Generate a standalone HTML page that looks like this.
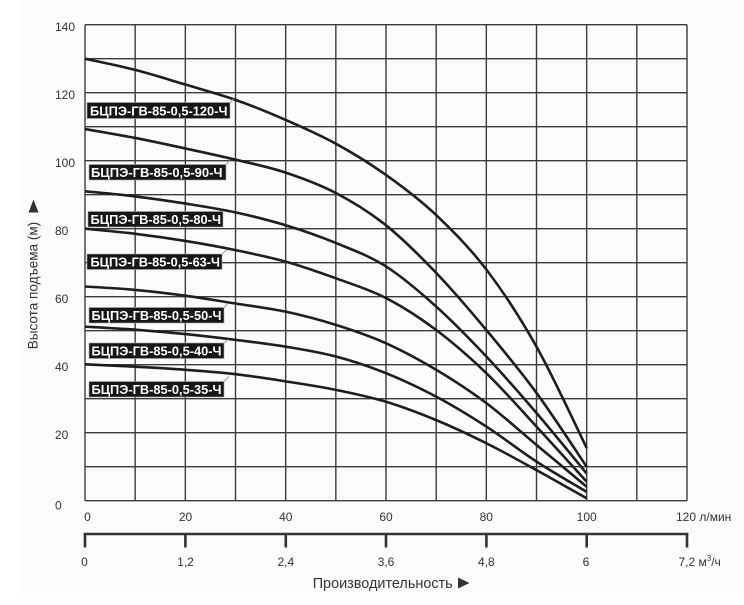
<!DOCTYPE html>
<html><head><meta charset="utf-8"><style>
html,body{margin:0;padding:0;background:#fff;}
svg{display:block;}
text{font-family:"Liberation Sans",Arial,sans-serif;}
</style></head><body>
<svg width="744" height="605" viewBox="0 0 744 605" xmlns="http://www.w3.org/2000/svg">
<rect x="0" y="0" width="744" height="605" fill="#fff"/>
<rect x="20" y="0" width="724" height="593" fill="#fbfbfb"/>
<g stroke="#3a3a3a" stroke-width="1.4" fill="none">
<line x1="85" y1="24.7" x2="85" y2="500.7"/>
<line x1="135.17" y1="24.7" x2="135.17" y2="500.7"/>
<line x1="185.33" y1="24.7" x2="185.33" y2="500.7"/>
<line x1="235.5" y1="24.7" x2="235.5" y2="500.7"/>
<line x1="285.67" y1="24.7" x2="285.67" y2="500.7"/>
<line x1="335.83" y1="24.7" x2="335.83" y2="500.7"/>
<line x1="386" y1="24.7" x2="386" y2="500.7"/>
<line x1="436.17" y1="24.7" x2="436.17" y2="500.7"/>
<line x1="486.33" y1="24.7" x2="486.33" y2="500.7"/>
<line x1="536.5" y1="24.7" x2="536.5" y2="500.7"/>
<line x1="586.67" y1="24.7" x2="586.67" y2="500.7"/>
<line x1="636.83" y1="24.7" x2="636.83" y2="500.7"/>
<line x1="687" y1="24.7" x2="687" y2="500.7"/>
<line x1="85" y1="24.7" x2="687" y2="24.7"/>
<line x1="85" y1="58.7" x2="687" y2="58.7"/>
<line x1="85" y1="92.7" x2="687" y2="92.7"/>
<line x1="85" y1="126.7" x2="687" y2="126.7"/>
<line x1="85" y1="160.7" x2="687" y2="160.7"/>
<line x1="85" y1="194.7" x2="687" y2="194.7"/>
<line x1="85" y1="228.7" x2="687" y2="228.7"/>
<line x1="85" y1="262.7" x2="687" y2="262.7"/>
<line x1="85" y1="296.7" x2="687" y2="296.7"/>
<line x1="85" y1="330.7" x2="687" y2="330.7"/>
<line x1="85" y1="364.7" x2="687" y2="364.7"/>
<line x1="85" y1="398.7" x2="687" y2="398.7"/>
<line x1="85" y1="432.7" x2="687" y2="432.7"/>
<line x1="85" y1="466.7" x2="687" y2="466.7"/>
<line x1="85" y1="500.7" x2="687" y2="500.7"/>
</g>

<g transform="translate(85 500.7) scale(5.0167 -3.4)" fill="none" stroke="#1e1e1e" stroke-width="2.6" stroke-linejoin="round">
<path vector-effect="non-scaling-stroke" d="M0,130 C1.667,129.45 6.667,127.97 10,126.7 C13.333,125.43 16.667,123.87 20,122.4 C23.333,120.93 26.667,119.63 30,117.9 C33.333,116.17 36.667,114.15 40,112 C43.333,109.85 46.667,107.7 50,105 C53.333,102.3 56.667,99.3 60,95.8 C63.333,92.3 66.667,88.63 70,84 C73.333,79.37 76.667,74.45 80,68 C83.333,61.55 86.667,54.05 90,45.3 C93.333,36.55 98.333,20.47 100,15.5"/>
<path vector-effect="non-scaling-stroke" d="M0,109.3 C1.667,108.87 6.667,107.65 10,106.7 C13.333,105.75 16.667,104.67 20,103.6 C23.333,102.53 26.667,101.48 30,100.3 C33.333,99.12 36.667,98.13 40,96.5 C43.333,94.87 46.667,93.08 50,90.5 C53.333,87.92 56.667,84.92 60,81 C63.333,77.08 66.667,72.13 70,67 C73.333,61.87 76.667,56.08 80,50.2 C83.333,44.32 86.667,38.4 90,31.7 C93.333,25 98.333,13.62 100,10"/>
<path vector-effect="non-scaling-stroke" d="M0,91 C1.667,90.75 6.667,90.1 10,89.5 C13.333,88.9 16.667,88.18 20,87.4 C23.333,86.62 26.667,85.87 30,84.8 C33.333,83.73 36.667,82.5 40,81 C43.333,79.5 46.667,77.82 50,75.8 C53.333,73.78 56.667,72.02 60,68.9 C63.333,65.78 66.667,61.52 70,57.1 C73.333,52.68 76.667,47.62 80,42.4 C83.333,37.18 86.667,31.53 90,25.8 C93.333,20.07 98.333,10.97 100,8"/>
<path vector-effect="non-scaling-stroke" d="M0,80 C1.667,79.75 6.667,79.1 10,78.5 C13.333,77.9 16.667,77.2 20,76.4 C23.333,75.6 26.667,74.72 30,73.7 C33.333,72.68 36.667,71.68 40,70.3 C43.333,68.92 46.667,67.18 50,65.4 C53.333,63.62 56.667,62.13 60,59.6 C63.333,57.07 66.667,53.88 70,50.2 C73.333,46.52 76.667,42.23 80,37.5 C83.333,32.77 86.667,27.12 90,21.8 C93.333,16.48 98.333,8.3 100,5.6"/>
<path vector-effect="non-scaling-stroke" d="M0,63 C1.667,62.83 6.667,62.45 10,62 C13.333,61.55 16.667,60.97 20,60.3 C23.333,59.63 26.667,58.78 30,58 C33.333,57.22 36.667,56.65 40,55.6 C43.333,54.55 46.667,53.25 50,51.7 C53.333,50.15 56.667,48.5 60,46.3 C63.333,44.1 66.667,41.43 70,38.5 C73.333,35.57 76.667,32.38 80,28.7 C83.333,25.02 86.667,20.5 90,16.4 C93.333,12.3 98.333,6.15 100,4.1"/>
<path vector-effect="non-scaling-stroke" d="M0,51.2 C1.667,51.05 6.667,50.67 10,50.3 C13.333,49.93 16.667,49.5 20,49 C23.333,48.5 26.667,47.92 30,47.3 C33.333,46.68 36.667,46.12 40,45.3 C43.333,44.48 46.667,43.7 50,42.4 C53.333,41.1 56.667,39.47 60,37.5 C63.333,35.53 66.667,33.22 70,30.6 C73.333,27.98 76.667,24.98 80,21.8 C83.333,18.62 86.667,14.7 90,11.5 C93.333,8.3 98.333,4.08 100,2.6"/>
<path vector-effect="non-scaling-stroke" d="M0,40.1 C1.667,39.98 6.667,39.67 10,39.4 C13.333,39.13 16.667,38.87 20,38.5 C23.333,38.13 26.667,37.77 30,37.2 C33.333,36.63 36.667,35.87 40,35.1 C43.333,34.33 46.667,33.6 50,32.6 C53.333,31.6 56.667,30.58 60,29.1 C63.333,27.62 66.667,25.73 70,23.7 C73.333,21.67 76.667,19.35 80,16.9 C83.333,14.45 86.667,11.7 90,9 C93.333,6.3 98.333,2.08 100,0.7"/>
</g>

<g stroke="#999" stroke-width="1" fill="none">
<line x1="230" y1="102.5" x2="233.5" y2="99"/>
<line x1="226" y1="164.5" x2="229.5" y2="160.5"/>
<line x1="222" y1="254" x2="226.7" y2="250"/>
<line x1="224" y1="307.5" x2="227.5" y2="304"/>
<line x1="224" y1="343" x2="228" y2="339.5"/>
<line x1="224" y1="381.5" x2="229" y2="376.5"/>
</g>
<g fill="#161616" stroke="#aaa" stroke-width="0.6">
<rect x="87" y="102.5" width="143" height="16"/>
<rect x="89" y="164.5" width="137" height="15.5"/>
<rect x="88" y="211.5" width="135" height="15.5"/>
<rect x="87" y="254" width="135" height="15.5"/>
<rect x="89" y="307.5" width="135" height="15.5"/>
<rect x="89" y="343" width="135" height="15.5"/>
<rect x="89" y="381.5" width="135" height="15.5"/>
</g>
<g fill="#fff" font-size="13" font-weight="bold">
<text x="90" y="115.3" textLength="137.5" lengthAdjust="spacingAndGlyphs">БЦПЭ-ГВ-85-0,5-120-Ч</text>
<text x="91" y="177" textLength="131.5" lengthAdjust="spacingAndGlyphs">БЦПЭ-ГВ-85-0,5-90-Ч</text>
<text x="90.5" y="224" textLength="130.5" lengthAdjust="spacingAndGlyphs">БЦПЭ-ГВ-85-0,5-80-Ч</text>
<text x="90.5" y="266.5" textLength="129.5" lengthAdjust="spacingAndGlyphs">БЦПЭ-ГВ-85-0,5-63-Ч</text>
<text x="91.5" y="320" textLength="130" lengthAdjust="spacingAndGlyphs">БЦПЭ-ГВ-85-0,5-50-Ч</text>
<text x="91.5" y="355.5" textLength="130" lengthAdjust="spacingAndGlyphs">БЦПЭ-ГВ-85-0,5-40-Ч</text>
<text x="91.5" y="394" textLength="130" lengthAdjust="spacingAndGlyphs">БЦПЭ-ГВ-85-0,5-35-Ч</text>
</g>

<g fill="#333" font-size="12">
<text x="55" y="31">140</text>
<text x="55" y="99">120</text>
<text x="55" y="167">100</text>
<text x="55" y="235">80</text>
<text x="55" y="303">60</text>
<text x="55" y="371">40</text>
<text x="55" y="439">20</text>
<text x="55" y="509.5">0</text>
</g>
<g fill="#333" font-size="12" text-anchor="middle">
<text x="87.5" y="521">0</text>
<text x="185.5" y="521">20</text>
<text x="285.8" y="521">40</text>
<text x="386" y="521">60</text>
<text x="486.3" y="521">80</text>
<text x="586.7" y="521">100</text>
</g>
<text x="676" y="521" fill="#333" font-size="12">120 л/мин</text>

<g stroke="#333" stroke-width="2.6" fill="none">
<line x1="83.7" y1="534" x2="688.3" y2="534"/>
<line x1="85" y1="533" x2="85" y2="547.5"/>
<line x1="185.4" y1="533" x2="185.4" y2="547.5"/>
<line x1="285.8" y1="533" x2="285.8" y2="547.5"/>
<line x1="386" y1="533" x2="386" y2="547.5"/>
<line x1="486.4" y1="533" x2="486.4" y2="547.5"/>
<line x1="586.7" y1="533" x2="586.7" y2="547.5"/>
<line x1="687" y1="533" x2="687" y2="547.5"/>
</g>
<g fill="#333" font-size="12" text-anchor="middle">
<text x="84.5" y="566">0</text>
<text x="185.5" y="566">1,2</text>
<text x="285.8" y="566">2,4</text>
<text x="386" y="566">3,6</text>
<text x="486.4" y="566">4,8</text>
<text x="586" y="566">6</text>
</g>
<text x="678.5" y="566" fill="#333" font-size="12">7,2 м<tspan font-size="8" dy="-5">3</tspan><tspan dy="5">/ч</tspan></text>

<text x="312.7" y="587.8" fill="#333" font-size="14.5" textLength="140" lengthAdjust="spacingAndGlyphs">Производительность</text>
<polygon points="458,577.5 469.5,583 458,588.5" fill="#333"/>

<text transform="translate(37.5,349.3) rotate(-90)" x="0" y="0" fill="#333" font-size="13.5" textLength="127.5" lengthAdjust="spacingAndGlyphs">Высота подъема (м)</text>
<polygon points="33.5,199.5 28.5,212.5 38.5,212.5" fill="#333"/>
</svg>
</body></html>
